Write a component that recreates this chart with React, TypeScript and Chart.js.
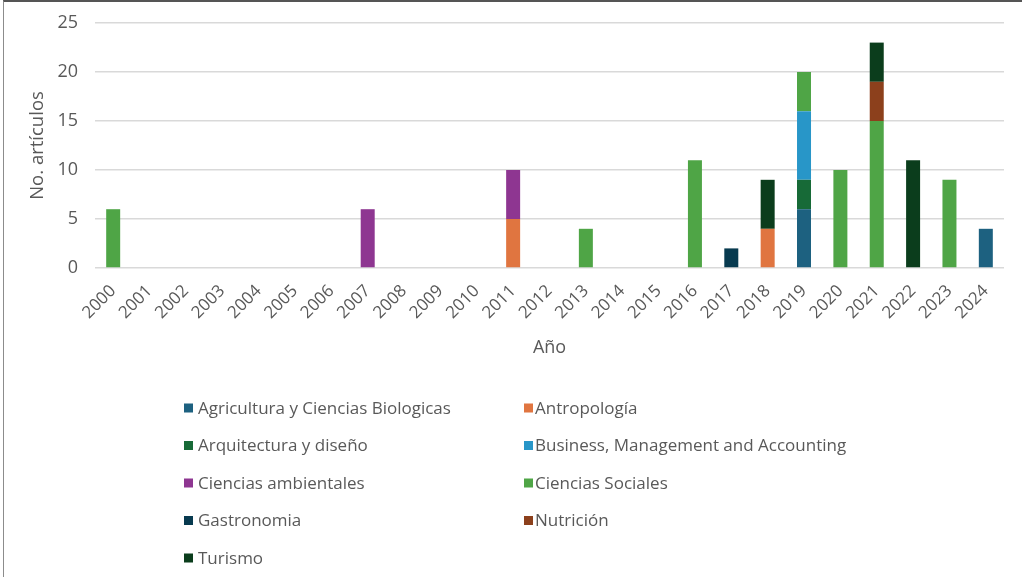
import React, { useEffect, useRef } from "react";
import { Chart, registerables } from "chart.js";

Chart.register(...registerables);

const years = ["2000","2001","2002","2003","2004","2005","2006","2007","2008","2009","2010","2011","2012","2013","2014","2015","2016","2017","2018","2019","2020","2021","2022","2023","2024"];

const agricultura =   [0,0,0,0,0,0,0,0,0,0,0,0,0,0,0,0,0,0,0,6,0,0,0,0,4];
const antropologia =  [0,0,0,0,0,0,0,0,0,0,0,5,0,0,0,0,0,0,4,0,0,0,0,0,0];
const arquitectura =  [0,0,0,0,0,0,0,0,0,0,0,0,0,0,0,0,0,0,0,3,0,0,0,0,0];
const business =      [0,0,0,0,0,0,0,0,0,0,0,0,0,0,0,0,0,0,0,7,0,0,0,0,0];
const ambientales =   [0,0,0,0,0,0,0,6,0,0,0,5,0,0,0,0,0,0,0,0,0,0,0,0,0];
const sociales =      [6,0,0,0,0,0,0,0,0,0,0,0,0,4,0,0,11,0,0,4,10,15,0,9,0];
const gastronomia =   [0,0,0,0,0,0,0,0,0,0,0,0,0,0,0,0,0,2,0,0,0,0,0,0,0];
const nutricion =     [0,0,0,0,0,0,0,0,0,0,0,0,0,0,0,0,0,0,0,0,0,4,0,0,0];
const turismo =       [0,0,0,0,0,0,0,0,0,0,0,0,0,0,0,0,0,0,5,0,0,4,11,0,0];

const seriesNames = [
  "Agricultura y Ciencias Biologicas",
  "Antropología",
  "Arquitectura y diseño",
  "Business, Management and Accounting",
  "Ciencias ambientales",
  "Ciencias Sociales",
  "Gastronomia",
  "Nutrición",
  "Turismo",
];
const seriesValues = [agricultura, antropologia, arquitectura, business, ambientales, sociales, gastronomia, nutricion, turismo];
const seriesColors = ["#1d6180", "#e07540", "#176a37", "#2896c8", "#8e3691", "#4fa546", "#073a4f", "#8c401c", "#0b3d1c"];

const yTicks = [0, 5, 10, 15, 20, 25];

const FONT = "'Open Sans', 'Liberation Sans', Arial, sans-serif";
const TEXT = "#595959";

const legendPlugin = {
  id: "gridLegend",
  afterDraw(chart: any) {
    const ctx = chart.ctx;
    ctx.save();
    ctx.font = `17px ${FONT}`;
    ctx.textBaseline = "middle";
    ctx.textAlign = "left";
    chart.data.datasets.forEach((ds: any, i: number) => {
      const col = i % 2;
      const row = Math.floor(i / 2);
      const sx = col === 0 ? 184 : 524;
      const tx = col === 0 ? 198 : 535;
      const y = 408 + row * 37.5;
      ctx.fillStyle = ds.backgroundColor;
      ctx.fillRect(sx, y - 4.5, 9, 9);
      ctx.fillStyle = TEXT;
      ctx.fillText(ds.label, tx, y + 1);
    });
    ctx.restore();
  },
};

export default function App() {
  const ref = useRef<HTMLCanvasElement | null>(null);
  useEffect(() => {
    if (!ref.current) return;
    const chart = new Chart(ref.current, {
      type: "bar",
      data: {
        labels: years,
        datasets: seriesNames.map((name, i) => ({
          label: name,
          data: seriesValues[i],
          backgroundColor: seriesColors[i],
          borderWidth: 0,
          categoryPercentage: 0.385,
          barPercentage: 1,
        })),
      },
      options: {
        responsive: false,
        animation: false,
        layout: { padding: { left: 4, right: 18, top: 23, bottom: 214 } },
        plugins: { legend: { display: false }, tooltip: { enabled: false } },
        scales: {
          x: {
            stacked: true,
            grid: { display: false },
            border: { display: false },
            ticks: {
              color: TEXT,
              font: { family: FONT, size: 17 },
              minRotation: 45,
              maxRotation: 45,
              padding: 5,
              autoSkip: false,
            },
            title: {
              display: true,
              text: "Año",
              color: TEXT,
              font: { family: FONT, size: 18 },
              padding: { top: 4, bottom: 4 },
            },
            afterFit: (s: any) => { s.height = 95; },
          },
          y: {
            stacked: true,
            min: 0,
            max: 25,
            afterBuildTicks: (s: any) => { s.ticks = yTicks.map((v) => ({ value: v })); },
            grid: { color: "#d9d9d9", lineWidth: 1.5, drawTicks: false },
            border: { display: false },
            ticks: {
              color: TEXT,
              font: { family: FONT, size: 18 },
              padding: 17,
            },
            title: {
              display: true,
              text: "No. artículos",
              color: TEXT,
              font: { family: FONT, size: 18.5 },
              padding: { top: 23, bottom: 0 },
            },
            afterFit: (s: any) => {
              s.width = 91;
              s.paddingTop = 11;
              s.paddingBottom = 11;
            },
          },
        },
      },
      plugins: [legendPlugin],
    });
    return () => chart.destroy();
  }, []);

  return (
    <div style={{ position: "fixed", left: 0, top: 0, width: 1022, height: 577, background: "#fff", overflow: "hidden" }}>
      <div style={{ position: "absolute", left: 3, top: 0, width: 1019, height: 577, borderTop: "2px solid #555", borderLeft: "1.5px solid #8c8c8c", boxSizing: "border-box" }} />
      <canvas ref={ref} width={1022} height={577} style={{ position: "absolute", left: 0, top: 0, width: 1022, height: 577 }} />
    </div>
  );
}
